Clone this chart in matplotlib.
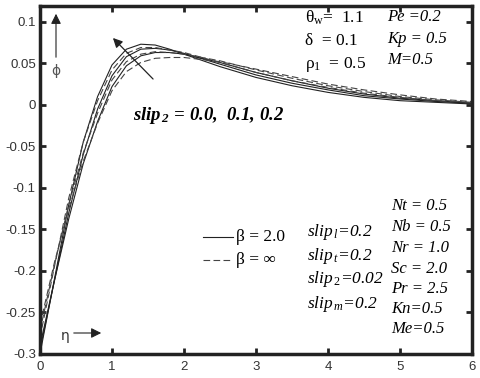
import matplotlib
matplotlib.use("Agg")
import matplotlib.pyplot as plt
import numpy as np

serif = "Liberation Serif"
plt.rcParams["mathtext.fontset"] = "custom"
plt.rcParams["mathtext.rm"] = serif
plt.rcParams["mathtext.it"] = serif + ":italic"
plt.rcParams["mathtext.bf"] = serif + ":bold:italic"
plt.rcParams["font.family"] = ["Liberation Sans", "DejaVu Sans"]

eta = [0, 0.2, 0.4, 0.6, 0.8, 1.0, 1.2, 1.4, 1.6, 1.8, 2.0, 2.5, 3.0, 3.5, 4.0, 4.5, 5.0, 5.5, 6.0]

# beta = 2.0 (solid), slip2 = 0.0, 0.1, 0.2
solid_s0 = [-0.300, -0.210, -0.120, -0.045, 0.010, 0.048, 0.067, 0.073, 0.072, 0.067, 0.061, 0.046, 0.033, 0.023, 0.015, 0.009, 0.005, 0.003, 0.001]
solid_s1 = [-0.295, -0.212, -0.130, -0.060, -0.005, 0.035, 0.058, 0.067, 0.068, 0.066, 0.062, 0.049, 0.036, 0.026, 0.018, 0.011, 0.007, 0.004, 0.002]
solid_s2 = [-0.290, -0.212, -0.137, -0.071, -0.020, 0.022, 0.047, 0.059, 0.063, 0.063, 0.061, 0.051, 0.039, 0.029, 0.020, 0.013, 0.008, 0.005, 0.002]
# beta = infinity (dashed)
dash_s0 = [-0.280, -0.195, -0.112, -0.045, 0.005, 0.042, 0.062, 0.069, 0.069, 0.066, 0.063, 0.051, 0.039, 0.029, 0.021, 0.014, 0.009, 0.005, 0.003]
dash_s1 = [-0.272, -0.193, -0.120, -0.058, -0.010, 0.030, 0.052, 0.061, 0.064, 0.063, 0.061, 0.053, 0.042, 0.032, 0.023, 0.016, 0.010, 0.006, 0.003]
dash_s2 = [-0.265, -0.190, -0.125, -0.068, -0.022, 0.017, 0.040, 0.051, 0.056, 0.057, 0.057, 0.052, 0.043, 0.034, 0.025, 0.018, 0.012, 0.007, 0.004]

xticks = [0, 1, 2, 3, 4, 5, 6]
yticks = [-0.3, -0.25, -0.2, -0.15, -0.1, -0.05, 0, 0.05, 0.1]
ytick_labels = ["-0.3", "-0.25", "-0.2", "-0.15", "-0.1", "-0.05", "0", "0.05", "0.1"]

W, H = 480, 378
fig = plt.figure(figsize=(W / 100, H / 100), dpi=100)
ax = fig.add_axes([40 / W, 1 - 354 / H, 432 / W, 348 / H])

lc = "#222222"
for ys in (solid_s0, solid_s1, solid_s2):
    ax.plot(eta, ys, color=lc, lw=0.8, ls="-")
for ys in (dash_s0, dash_s1, dash_s2):
    ax.plot(eta, ys, color="#444444", lw=0.8, ls=(0, (6, 3)))

ax.set_xlim(0, 6)
ax.set_ylim(-0.3, 0.119)
ax.set_xticks(xticks)
ax.set_xticklabels([str(v) for v in xticks])
ax.set_yticks(yticks)
ax.set_yticklabels(ytick_labels)
ax.tick_params(direction="in", length=4, width=2, labelsize=9.5, top=True, right=True,
               color="#222222", labelcolor="#333333", pad=3)
ax.tick_params(axis="x", pad=5)
for s in ax.spines.values():
    s.set_linewidth(2.5)
    s.set_color("#222222")

def P(x, y):
    return (x / W, 1 - y / H)

tf = fig.transFigure

# top-left block
fig.text(*P(305, 18), r"$\mathrm{\theta}_{\mathrm{w}}$=  1.1", transform=tf, family=serif, fontsize=12.5, va="center")
fig.text(*P(305, 41), "δ  = 0.1", transform=tf, family=serif, fontsize=12.5, va="center")
fig.text(*P(305, 64), r"$\mathrm{\rho}_{\mathrm{1}}$  = 0.5", transform=tf, family=serif, fontsize=12.5, va="center")

fig.text(*P(387, 17), "Pe =0.2", transform=tf, family=serif, style="italic", fontsize=12, va="center")
fig.text(*P(387, 39), "Kp = 0.5", transform=tf, family=serif, style="italic", fontsize=12, va="center")
fig.text(*P(387, 60), "M=0.5", transform=tf, family=serif, style="italic", fontsize=12, va="center")

# slip2 label and arrow
fig.text(*P(133, 116), r"$\mathbf{slip}_{\,\mathbf{2}}$ = 0.0,  0.1, 0.2", transform=tf, family=serif,
         style="italic", weight="bold", fontsize=13.5, va="center")
ax.annotate("", xy=P(111, 36), xycoords=tf, xytext=P(155, 81), textcoords=tf,
            arrowprops=dict(arrowstyle="-|>", color="#222222", lw=0.9, mutation_scale=14))

# phi arrow
ax.annotate("", xy=P(56, 11), xycoords=tf, xytext=P(56, 60), textcoords=tf,
            arrowprops=dict(arrowstyle="-|>", color="#222222", lw=0.8, mutation_scale=15))
fig.text(*P(56, 71), "ϕ", transform=tf, family="DejaVu Sans", fontsize=10, ha="center", va="center", color="#555555")

# eta arrow
fig.text(*P(65, 336), "η", transform=tf, family="DejaVu Sans", fontsize=10, ha="center", va="center", color="#333333")
ax.annotate("", xy=P(104, 333), xycoords=tf, xytext=P(71, 333), textcoords=tf,
            arrowprops=dict(arrowstyle="-|>", color="#222222", lw=0.8, mutation_scale=15))

# legend
fig.add_artist(plt.Line2D([203 / W, 233 / W], [1 - 237 / H, 1 - 237 / H], color=lc, lw=0.8, transform=tf))
fig.add_artist(plt.Line2D([203 / W, 233 / W], [1 - 260 / H, 1 - 260 / H], color="#444444", lw=0.8,
                          ls=(0, (6, 3)), transform=tf))
fig.text(*P(236, 237), "β = 2.0", transform=tf, family=serif, fontsize=12.5, va="center")
fig.text(*P(236, 260), "β = ∞", transform=tf, family=serif, fontsize=12.5, va="center")

# slip block
for y, txt in [(232, r"$slip_{\,l}$=0.2"), (256, r"$slip_{\,t}$=0.2"),
               (279, r"$slip_{\,2}$=0.02"), (304, r"$slip_{\,m}$=0.2")]:
    fig.text(*P(307, y), txt, transform=tf, family=serif, style="italic", fontsize=12.5, va="center")

# right block
for y, txt in [(206, "Nt = 0.5"), (227, "Nb = 0.5"), (248, "Nr = 1.0"), (269, "Sc = 2.0"),
               (289, "Pr = 2.5"), (309, "Kn=0.5"), (329, "Me=0.5")]:
    fig.text(*P(391, y), txt, transform=tf, family=serif, style="italic", fontsize=12, va="center")

fig.savefig("out.png", dpi=100)
